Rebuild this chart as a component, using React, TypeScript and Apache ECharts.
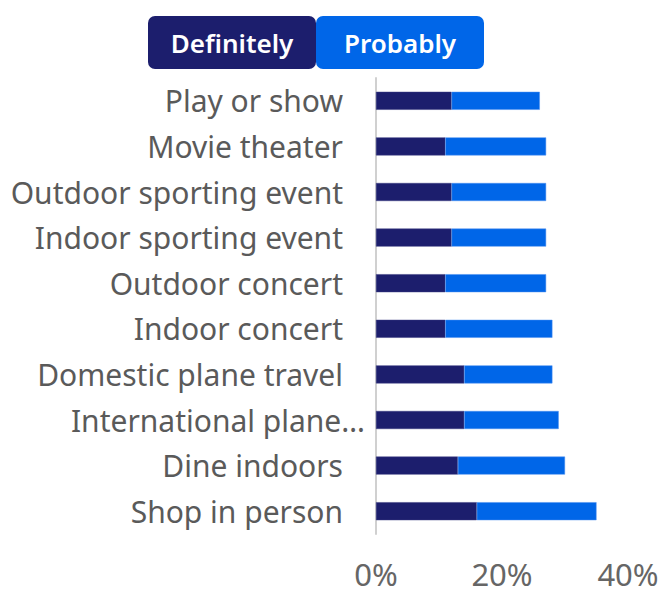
import React, { useEffect, useRef } from "react";
import * as echarts from "echarts";

const categories = [
  "Play or show",
  "Movie theater",
  "Outdoor sporting event",
  "Indoor sporting event",
  "Outdoor concert",
  "Indoor concert",
  "Domestic plane travel",
  "International plane travel",
  "Dine indoors",
  "Shop in person",
];
const definitely = [12, 11, 12, 12, 11, 11, 14, 14, 13, 16];
const probably = [14, 16, 15, 15, 16, 17, 14, 15, 17, 19];
const xTicks = [0, 20, 40];
const seriesNames = ["Definitely", "Probably"];
const colors = ["#1c1e6d", "#0066e8"];
const maxLabelChars = 22;

export default function App() {
  const ref = useRef<HTMLDivElement>(null);
  useEffect(() => {
    const chart = echarts.init(ref.current!, null, { renderer: "svg" });
    const font = "'Segoe UI', 'Noto Sans', 'Open Sans', sans-serif";
    const labelStyle = { fontSize: 30, color: "#5a5a5a", fontFamily: font };
    chart.setOption({
      animation: false,
      textStyle: { fontFamily: font },
      grid: { left: 376, right: 34, top: 78, bottom: 58, containLabel: false },
      xAxis: {
        type: "value",
        min: xTicks[0],
        max: xTicks[xTicks.length - 1],
        interval: 20,
        splitLine: { show: false },
        axisLine: { show: false },
        axisTick: { show: false },
        axisLabel: {
          formatter: (v: number) => v + "%",
          fontSize: 31,
          color: "#666666",
          margin: 24,
          fontFamily: font,
        },
      },
      yAxis: {
        type: "category",
        inverse: true,
        data: categories,
        axisLine: { show: true, lineStyle: { color: "#d0d0d0", width: 2 } },
        axisTick: { show: false },
        axisLabel: {
          ...labelStyle,
          margin: 33,
          formatter: (v: string) => {
            if (v.length <= maxLabelChars) return `{a|${v}}`;
            const words = v.split(" ");
            let s = "";
            for (const w of words) {
              const next = s ? s + " " + w : w;
              if (next.length > maxLabelChars - 3) break;
              s = next;
            }
            return `{b|${s}…}`;
          },
          rich: {
            a: { ...labelStyle },
            b: { ...labelStyle, padding: [0, -22, 0, 0] },
          },
        },
      },
      series: [
        {
          name: seriesNames[0],
          type: "bar",
          stack: "total",
          data: definitely,
          barWidth: 18,
          itemStyle: { color: colors[0], borderColor: "#3a3c80", borderWidth: 0.5 },
        },
        {
          name: seriesNames[1],
          type: "bar",
          stack: "total",
          data: probably,
          barWidth: 18,
          itemStyle: { color: colors[1], borderColor: "#4a8ff0", borderWidth: 0.5 },
        },
      ],
      graphic: [
        {
          type: "rect",
          shape: { x: 148, y: 16, width: 168, height: 53, r: 7 },
          style: { fill: colors[0] },
        },
        {
          type: "text",
          x: 232,
          y: 43,
          style: {
            text: seriesNames[0],
            fill: "#ffffff",
            font: `600 26px ${font}`,
            textAlign: "center",
            textVerticalAlign: "middle",
          },
        },
        {
          type: "rect",
          shape: { x: 316, y: 16, width: 168, height: 53, r: 7 },
          style: { fill: colors[1] },
        },
        {
          type: "text",
          x: 400,
          y: 43,
          style: {
            text: seriesNames[1],
            fill: "#ffffff",
            font: `600 26px ${font}`,
            textAlign: "center",
            textVerticalAlign: "middle",
          },
        },
      ],
    });
    return () => chart.dispose();
  }, []);
  return (
    <div
      ref={ref}
      style={{ position: "fixed", left: 0, top: 0, width: 662, height: 592, background: "#fff" }}
    />
  );
}
